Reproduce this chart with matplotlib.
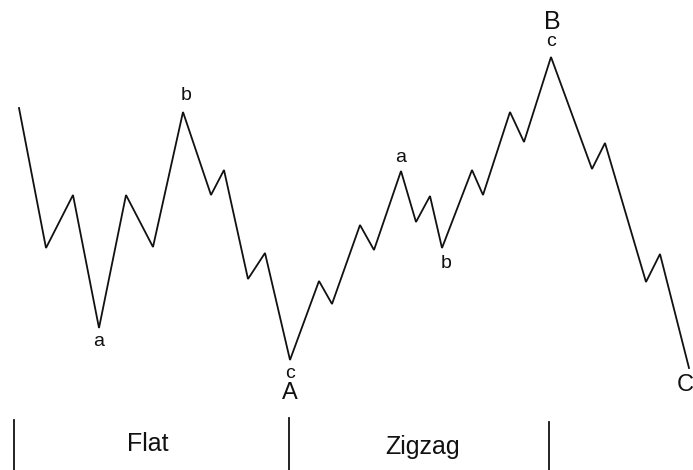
import matplotlib.pyplot as plt

# wave path (time position, price level)
wave_x = [19, 46, 73, 99, 126, 153, 183, 211, 224, 248, 265, 290, 319, 332,
          360, 374, 401, 416, 430, 442, 472, 483, 510, 524, 551, 592, 605,
          646, 660, 689]
wave_y = [362, 222, 275, 142, 275, 223, 358, 275, 300, 191, 217, 110, 189, 166,
          245, 220, 299, 248, 274, 222, 300, 275, 358, 328, 413, 301, 327,
          188, 216, 102]

# small wave labels: (text, x, y, size)
labels = [
    ("a", 99, 128, 14),
    ("b", 186, 374, 14),
    ("c", 290, 97, 14),
    ("A", 290, 77, 17),
    ("a", 401, 312, 14),
    ("b", 446, 206, 14),
    ("B", 552, 448, 18),
    ("c", 551, 428, 14),
    ("C", 685, 85, 17),
]

# section dividers and names
divider_x = [14, 289, 549]
divider_top = [50, 52, 48]
section_names = ["Flat", "Zigzag"]
section_x = [148, 423]
section_y = [26, 23]

plt.rcParams["font.family"] = ["Liberation Sans", "DejaVu Sans"]

fig = plt.figure(figsize=(6.93, 4.70), dpi=100)
ax = fig.add_axes([0, 0, 1, 1])
ax.set_xlim(0, 693)
ax.set_ylim(0, 470)
ax.axis("off")

ax.plot(wave_x, wave_y, color="#111111", lw=1.3, solid_joinstyle="miter")

for txt, x, y, s in labels:
    ax.text(x, y, txt, ha="center", va="center", fontsize=s, color="#111111")

for x, top in zip(divider_x, divider_top):
    ax.plot([x, x], [0, top], color="#111111", lw=1.3)

for name, x, y in zip(section_names, section_x, section_y):
    ax.text(x, y, name, ha="center", va="center", fontsize=18, color="#111111")

fig.savefig("out.png", dpi=100)
